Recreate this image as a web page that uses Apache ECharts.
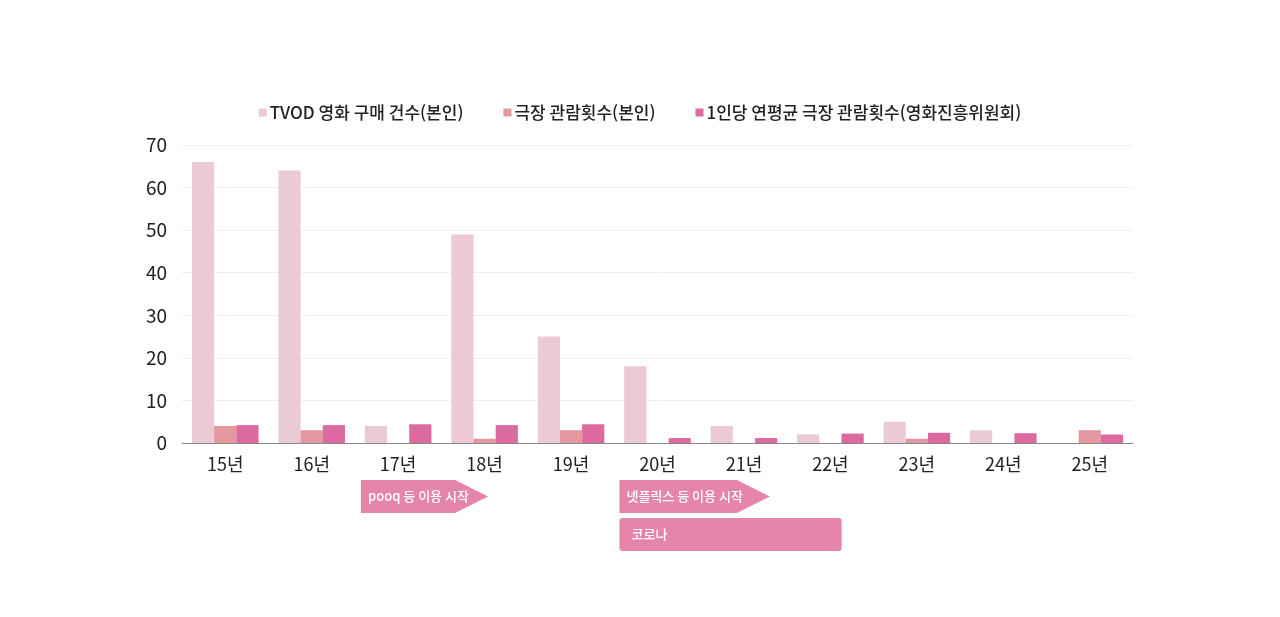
<!DOCTYPE html>
<html lang="ko">
<head>
    <meta charset="UTF-8">
    <title>영화 관람 추이</title>
    <script src="https://cdn.jsdelivr.net/npm/echarts@6/dist/echarts.min.js"></script>
    <style>
        html, body { margin: 0; padding: 0; background: #fff; }
        #chart1 { width: 1280px; height: 617px; }
    </style>
</head>
<body>
<div id="chart1"></div>
<script type="text/javascript">
    // 데이터
    var years = ['15년', '16년', '17년', '18년', '19년', '20년', '21년', '22년', '23년', '24년', '25년'];
    var tvodBuy = [66, 64, 4, 49, 25, 18, 4, 2, 5, 3, 0];
    var theaterMine = [4, 3, 0, 1, 3, 0, 0, 0, 1, 0, 3];
    var theaterAvg = [4.2, 4.2, 4.4, 4.2, 4.4, 1.15, 1.15, 2.2, 2.4, 2.3, 2.0];
    var names = ['TVOD 영화 구매 건수(본인)', '극장 관람횟수(본인)', '1인당 연평균 극장 관람횟수(영화진흥위원회)'];
    var colors = ['#ebc9d5', '#e3979f', '#dd69a1'];

    // 하단 표시 (시작, 끝 = 카테고리 위치, 줄, 문구, 화살표 여부)
    var noteStart = [1.57, 4.56, 4.56];
    var noteEnd = [3.04, 6.30, 7.13];
    var noteRow = [0, 0, 1];
    var noteText = ['pooq 등 이용 시작', '넷플릭스 등 이용 시작', '코로나'];
    var noteArrow = [true, true, false];

    var font = '"Noto Sans CJK KR", "Noto Sans", sans-serif';
    var myChart1 = echarts.init(document.getElementById('chart1'));

    function renderNote(params, api) {
        var i = params.dataIndex;
        var c0 = api.coord([0, 0]);
        var bw = api.size([1, 0])[0];
        var x1 = c0[0] + noteStart[i] * bw;
        var x2 = c0[0] + noteEnd[i] * bw;
        var h = 33;
        var y1 = c0[1] + 37 + noteRow[i] * 38;
        var shape;
        if (noteArrow[i]) {
            var tip = h;
            shape = {
                type: 'polygon',
                shape: { points: [[x1, y1], [x2 - tip, y1], [x2, y1 + h / 2], [x2 - tip, y1 + h], [x1, y1 + h]] },
                style: { fill: '#e585ac' }
            };
        } else {
            shape = {
                type: 'rect',
                shape: { x: x1, y: y1, width: x2 - x1, height: h, r: 3 },
                style: { fill: '#e585ac' }
            };
        }
        return {
            type: 'group',
            children: [shape, {
                type: 'text',
                style: {
                    x: x1 + (noteArrow[i] ? 7 : 12), y: y1 + h / 2,
                    text: noteText[i], fill: '#fff',
                    font: '500 13px ' + font, verticalAlign: 'middle'
                }
            }]
        };
    }

    myChart1.setOption({
        textStyle: { fontFamily: font },
        legend: {
            data: names,
            top: 99,
            left: 'center',
            itemWidth: 8,
            itemHeight: 8,
            itemGap: 40,
            icon: 'rect',
            textStyle: { fontSize: 17, color: '#222', fontWeight: 500, padding: [0, 0, 0, -2] }
        },
        grid: { left: 182, right: 147, top: 145, bottom: 174 },
        xAxis: {
            type: 'category',
            data: years,
            axisTick: { show: false },
            axisLine: { lineStyle: { color: '#888' } },
            axisLabel: { fontSize: 18, color: '#222', margin: 12 }
        },
        yAxis: {
            type: 'value',
            min: 0,
            max: 70,
            interval: 10,
            axisLabel: { fontSize: 19, color: '#222', margin: 15 },
            splitLine: { lineStyle: { color: '#eeeeee' } }
        },
        series: [
            { name: names[0], type: 'bar', data: tvodBuy, itemStyle: { color: colors[0] }, barGap: '0%', barCategoryGap: '23%' },
            { name: names[1], type: 'bar', data: theaterMine, itemStyle: { color: colors[1] } },
            { name: names[2], type: 'bar', data: theaterAvg, itemStyle: { color: colors[2] } },
            {
                name: 'notes',
                type: 'custom',
                renderItem: renderNote,
                clip: false,
                silent: true,
                data: noteText.map(function (t, i) { return [0, 0]; })
            }
        ]
    });
</script>
</body>
</html>
